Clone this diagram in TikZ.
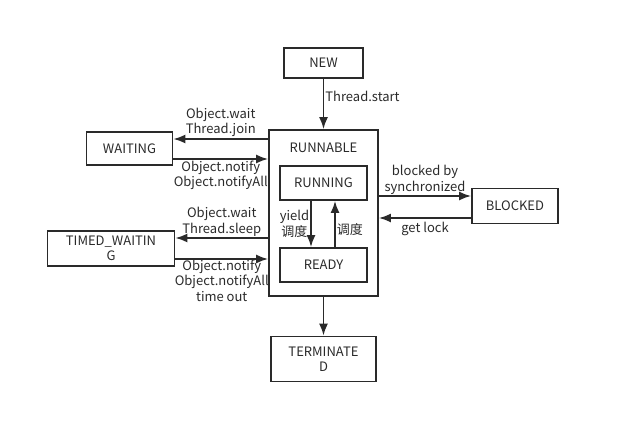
\documentclass[tikz,border=0pt]{standalone}
\usepackage{fontspec}
\setmainfont{Noto Sans CJK SC}
\usetikzlibrary{arrows.meta}
\definecolor{ink}{HTML}{2A2A2A}
\begin{document}
\begin{tikzpicture}[>={Latex[length=12pt,width=9pt]},x=1pt,y=-1pt,
  every node/.style={font=\fontsize{13}{15.5}\selectfont,text=ink},
  state/.style={draw=ink,line width=1.8pt,align=center,inner sep=0pt},
  flow/.style={->,draw=ink,line width=1.8pt},
  tag/.style={align=center,inner sep=1pt}]
\useasboundingbox(0,0)rectangle(619,444);
\node[state,minimum width=79,minimum height=30](new)at(323.5,63){NEW};
\node[state,minimum width=109,minimum height=166,label={[tag,anchor=north,yshift=-13pt]north:RUNNABLE}](runnable)at(323.5,213){};
\node[state,minimum width=87,minimum height=34](running)at(323.5,183){RUNNING};
\node[state,minimum width=87,minimum height=34](ready)at(323.5,265){READY};
\node[state,minimum width=86,minimum height=33](waiting)at(129.5,148.5){WAITING};
\node[state,minimum width=127,minimum height=35](timed)at(111,248.5){TIMED\_WAITIN\\G};
\node[state,minimum width=86,minimum height=35](blocked)at(515,206){BLOCKED};
\node[state,minimum width=105,minimum height=45](term)at(323.5,359){TERMINATE\\D};
\draw[flow](new)--(runnable)node[tag,pos=.35,right]{Thread.start};
\draw[flow](runnable.west|-0,139)--(waiting.east|-0,139)node[tag,midway,above]{Object.wait\\Thread.join};
\draw[flow](waiting.east|-0,159)--(runnable.west|-0,159)node[tag,midway,below]{Object.notify\\Object.notifyAll};
\draw[flow](runnable.west|-0,238)--(timed.east|-0,238)node[tag,midway,above]{Object.wait\\Thread.sleep};
\draw[flow](timed.east|-0,259)--(runnable.west|-0,259)node[tag,midway,below,inner sep=0pt]{Object.notify\\Object.notifyAll\\time out};
\draw[flow](runnable.east|-0,196)--(blocked.west|-0,196)node[tag,midway,above]{blocked by\\synchronized};
\draw[flow](blocked.west|-0,218)--(runnable.east|-0,218)node[tag,midway,below,yshift=-2pt]{get lock};
\draw[flow](running.south-|311,0)--(ready.north-|311,0)node[tag,midway,left]{yield\\调度};
\draw[flow](ready.north-|335,0)--(running.south-|335,0)node[tag,pos=.38,right]{调度};
\draw[flow](runnable)--(term);
\end{tikzpicture}
\end{document}
